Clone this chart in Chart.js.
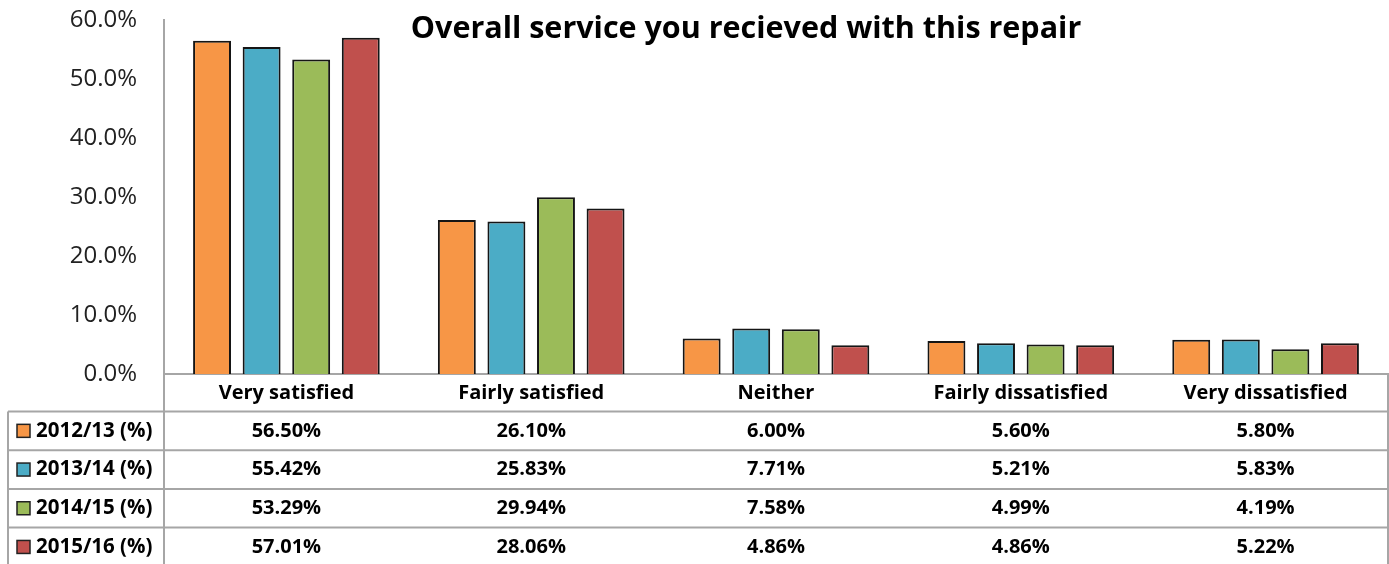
<!DOCTYPE html>
<html lang="en">
<head>
<meta charset="UTF-8">
<title>Overall service you recieved with this repair</title>
<script src="https://cdn.jsdelivr.net/npm/chart.js"></script>
<style>
  html, body { margin: 0; padding: 0; background: #fff; }
  #wrap { width: 1389px; height: 564px; }
</style>
</head>
<body>
<div id="wrap"><canvas id="myChart" width="1389" height="564"></canvas></div>
<script>
// data
const categories = ['Very satisfied', 'Fairly satisfied', 'Neither', 'Fairly dissatisfied', 'Very dissatisfied'];
const seriesNames = ['2012/13 (%)', '2013/14 (%)', '2014/15 (%)', '2015/16 (%)'];
const y2012 = [56.50, 26.10, 6.00, 5.60, 5.80];
const y2013 = [55.42, 25.83, 7.71, 5.21, 5.83];
const y2014 = [53.29, 29.94, 7.58, 4.99, 4.19];
const y2015 = [57.01, 28.06, 4.86, 4.86, 5.22];
const yTicks = [0, 10, 20, 30, 40, 50, 60];

const colors = ['#F79646', '#4BACC6', '#9BBB59', '#C0504D'];
const allSeries = [y2012, y2013, y2014, y2015];

const LINE = '#a6a6a6';
const TABLE_LEFT = 8;
const ROW_H = 38.7;

// draws title + data table under the plot
const tablePlugin = {
  id: 'dataTable',
  afterDraw(chart) {
    const ctx = chart.ctx;
    const xs = chart.scales.x;
    const area = chart.chartArea;
    const top = area.bottom;
    const left = area.left;
    const right = area.right;

    ctx.save();
    // title
    ctx.fillStyle = '#000';
    ctx.font = 'bold 30.5px "Open Sans"';
    ctx.textAlign = 'center';
    ctx.textBaseline = 'middle';
    ctx.fillText('Overall service you recieved with this repair', 746, 29);

    // grid lines of table
    ctx.strokeStyle = LINE;
    ctx.lineWidth = 2;
    ctx.beginPath();
    const headerBottom = top + 37.5;
    ctx.moveTo(TABLE_LEFT, headerBottom); ctx.lineTo(right, headerBottom);
    for (let i = 1; i <= seriesNames.length; i++) {
      const y = headerBottom + ROW_H * i;
      ctx.moveTo(TABLE_LEFT, y); ctx.lineTo(right, y);
    }
    ctx.moveTo(left, top); ctx.lineTo(left, chart.height);
    ctx.moveTo(TABLE_LEFT, headerBottom); ctx.lineTo(TABLE_LEFT, chart.height);
    ctx.moveTo(right, top); ctx.lineTo(right, chart.height);
    ctx.stroke();

    // category labels
    ctx.fillStyle = '#000';
    ctx.font = 'bold 20px "Open Sans"';
    ctx.textAlign = 'center';
    categories.forEach((c, i) => {
      ctx.fillText(c, xs.getPixelForValue(i), top + 19);
    });

    // rows
    seriesNames.forEach((name, r) => {
      const cy = headerBottom + ROW_H * r + ROW_H / 2;
      ctx.fillStyle = colors[r];
      ctx.fillRect(17, cy - 6.5, 13, 13);
      ctx.strokeStyle = '#222';
      ctx.lineWidth = 1.5;
      ctx.strokeRect(17, cy - 6.5, 13, 13);
      ctx.fillStyle = '#000';
      ctx.textAlign = 'left';
      ctx.font = 'bold 20.5px "Open Sans"';
      ctx.fillText(name, 36, cy);
      ctx.textAlign = 'center';
      ctx.font = 'bold 20px "Open Sans"';
      allSeries[r].forEach((v, i) => {
        ctx.fillText(v.toFixed(2) + '%', xs.getPixelForValue(i), cy);
      });
    });
    ctx.restore();
  }
};

const datasets = seriesNames.map((name, i) => ({
  label: name,
  data: allSeries[i],
  backgroundColor: colors[i],
  borderColor: '#151515',
  borderWidth: 2,
  categoryPercentage: 0.81,
  barPercentage: 0.765
}));

const ctx = document.getElementById('myChart').getContext('2d');
const myChart = new Chart(ctx, {
  type: 'bar',
  data: { labels: categories, datasets: datasets },
  options: {
    responsive: false,
    animation: false,
    layout: { padding: { top: 20, right: 1, bottom: 190, left: 0 } },
    plugins: {
      legend: { display: false },
      tooltip: { enabled: false }
    },
    scales: {
      x: {
        ticks: { display: false },
        grid: { display: false, drawTicks: false },
        border: { display: true, color: LINE, width: 2 },
        afterFit(scale) { scale.height = 0; }
      },
      y: {
        min: 0,
        max: 60,
        afterBuildTicks(scale) { scale.ticks = yTicks.map(v => ({ value: v })); },
        ticks: {
          font: { family: 'Open Sans', size: 24 },
          color: '#222',
          padding: 27,
          callback: v => v.toFixed(1) + '%'
        },
        grid: { display: false, drawTicks: false },
        border: { display: true, color: LINE, width: 2 },
        afterFit(scale) {
          scale.width = 164;
          scale.paddingTop = 0;
          scale.paddingBottom = 0;
        }
      }
    }
  },
  plugins: [tablePlugin]
});
</script>
</body>
</html>
